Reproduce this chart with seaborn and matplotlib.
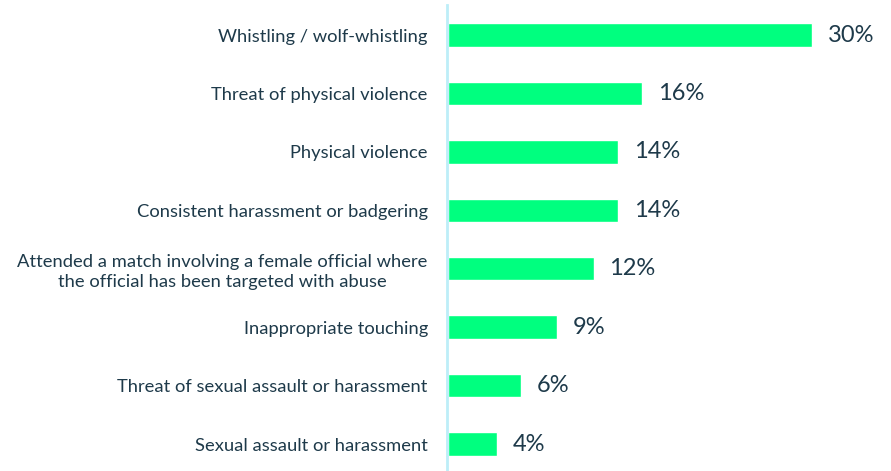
import matplotlib
matplotlib.use("Agg")
import matplotlib.pyplot as plt
import seaborn as sns
import pandas as pd

categories = [
    "Whistling / wolf-whistling",
    "Threat of physical violence",
    "Physical violence",
    "Consistent harassment or badgering",
    "Attended a match involving a female official where\nthe official has been targeted with abuse",
    "Inappropriate touching",
    "Threat of sexual assault or harassment",
    "Sexual assault or harassment",
]
values = [30, 16, 14, 14, 12, 9, 6, 4]

BAR_COLOR = "#00FF7F"
TEXT_COLOR = "#1E3A4A"
AXIS_COLOR = "#BDEEF8"

sns.set_style("white")
plt.rcParams["font.family"] = ["Lato", "DejaVu Sans"]

df = pd.DataFrame({"category": categories, "value": values})

fig = plt.figure(figsize=(8.91, 4.71), dpi=100)
ax = fig.add_axes([448 / 891, 1 - 470 / 471, (872.7 - 448) / 891, 465 / 471])

sns.barplot(data=df, y="category", x="value", orient="h", color=BAR_COLOR,
            width=0.4, saturation=1, ax=ax)

ax.set_xlim(0, 35)
ax.set_ylim(7.445, -0.514)

for i, v in enumerate(values):
    ax.text(v + 1.3, i, f"{v}%", va="center", ha="left",
            fontsize=17, color=TEXT_COLOR)

for side in ["top", "right", "bottom"]:
    ax.spines[side].set_visible(False)
ax.spines["left"].set_color(AXIS_COLOR)
ax.spines["left"].set_linewidth(2)
ax.spines["left"].set_position(("outward", 1))

ax.set_xticks([])
ax.set_xlabel("")
ax.set_ylabel("")
ax.tick_params(axis="y", length=0, pad=13.5, labelsize=13.2, labelcolor=TEXT_COLOR)
for lbl in ax.get_yticklabels():
    lbl.set_multialignment("center")
    lbl.set_linespacing(1.3)

fig.savefig("out.png", dpi=100)
